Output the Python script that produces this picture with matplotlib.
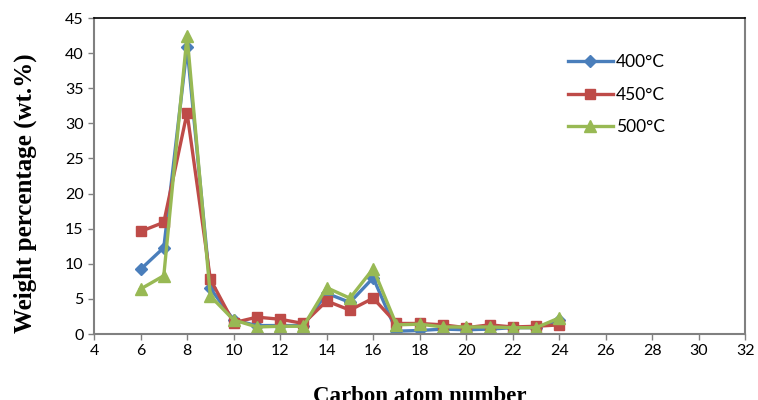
import matplotlib
matplotlib.use("Agg")
import matplotlib.pyplot as plt

# carbon atom numbers
carbon = [6, 7, 8, 9, 10, 11, 12, 13, 14, 15, 16, 17, 18, 19, 20, 21, 22, 23, 24]

# weight percentages
wt_400 = [9.2, 12.3, 40.8, 6.5, 2.0, 1.2, 1.2, 1.2, 5.8, 4.5, 8.0, 0.4, 0.5, 0.7, 0.6, 0.7, 0.9, 0.9, 2.0]
wt_450 = [14.6, 15.9, 31.5, 7.8, 1.6, 2.4, 2.1, 1.5, 4.7, 3.4, 5.1, 1.5, 1.5, 1.3, 0.9, 1.3, 1.0, 1.1, 1.3]
wt_500 = [6.4, 8.3, 42.5, 5.4, 2.0, 1.0, 1.1, 1.1, 6.6, 5.1, 9.3, 1.3, 1.4, 1.0, 1.0, 1.0, 0.9, 0.9, 2.3]

labels = ['400°C', '450°C', '500°C']
x_ticks = list(range(4, 33, 2))
y_ticks = list(range(0, 46, 5))

tick_font = 'Lato'
label_font = 'Liberation Serif'

fig = plt.figure(figsize=(7.58, 4.0), dpi=100)
ax = fig.add_axes([0.124, 0.165, 0.8595, 0.79])

ax.plot(carbon, wt_400, color='#4A7EBB', lw=2.4, marker='D', ms=6, label=labels[0])
ax.plot(carbon, wt_450, color='#BE4B48', lw=2.4, marker='s', ms=7, label=labels[1])
ax.plot(carbon, wt_500, color='#98B954', lw=2.4, marker='^', ms=8, label=labels[2])

ax.set_xlim(4, 32)
ax.set_ylim(0, 45)
ax.set_xticks(x_ticks)
ax.set_yticks(y_ticks)
ax.tick_params(direction='out', length=4, width=1, colors='#808080', labelcolor='black',
               labelsize=11.5)
for lab in ax.get_xticklabels() + ax.get_yticklabels():
    lab.set_family(tick_font)

for side in ['left', 'bottom', 'right']:
    ax.spines[side].set_color('#808080')
    ax.spines[side].set_linewidth(1.5)
ax.spines['top'].set_color('black')
ax.spines['top'].set_linewidth(1.2)

ax.set_xlabel('Carbon atom number', family=label_font, fontweight='bold', fontsize=16.5, labelpad=20)
ax.set_ylabel('Weight percentage (wt.%)', family=label_font, fontweight='bold', fontsize=18)
ax.yaxis.set_label_coords(-0.087, 0.446)

leg = ax.legend(loc='upper left', bbox_to_anchor=(0.703, 0.935), frameon=False,
                prop={'family': tick_font, 'size': 12.5}, labelspacing=0.95,
                handlelength=2.6, handletextpad=0.2)

fig.savefig('out.png', dpi=100)
